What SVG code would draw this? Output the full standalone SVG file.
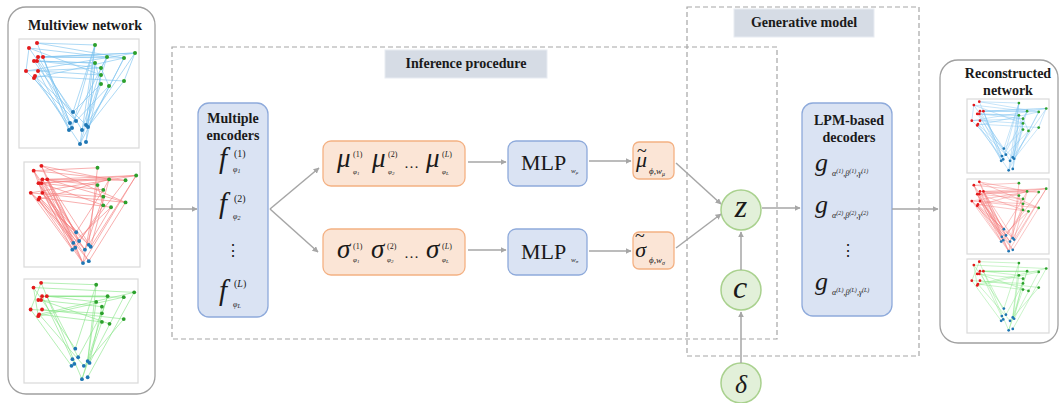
<svg xmlns="http://www.w3.org/2000/svg" xmlns:xlink="http://www.w3.org/1999/xlink" width="1060" height="403" viewBox="0 0 1060 403">
<style>
.tb{font-family:"Liberation Serif",serif;font-weight:bold;font-size:14px;fill:#1a1a1a;text-anchor:middle}
.m{font-family:"Liberation Serif",serif;font-style:italic;fill:#1a1a1a}
.r{font-family:"Liberation Serif",serif;fill:#1a1a1a}
.dash{fill:none;stroke:#a6a6a6;stroke-width:1.2;stroke-dasharray:5 3}
.blue{fill:#dae3f3;stroke:#8eaadb;stroke-width:1.3}
.orng{fill:#fbe5d6;stroke:#f4b183;stroke-width:1.3}
.grn{fill:#e2f0d9;stroke:#a9d18e;stroke-width:1.5}
.lab{fill:#d6dce5;stroke:#e8ecf2;stroke-width:1}
.panel{fill:#fff;stroke:#a0a0a0;stroke-width:1.3}
.frame{fill:#fff;stroke:#d9d9d9;stroke-width:1.2}
.arr{fill:none;stroke:#a6a6a6;stroke-width:1.5;marker-end:url(#ah)}
.e{fill:none;stroke-width:0.8;stroke-opacity:0.8}
</style>
<defs>
<marker id="ah" viewBox="0 0 10 10" refX="9" refY="5" markerWidth="6" markerHeight="6" markerUnits="userSpaceOnUse" orient="auto">
<path d="M0,0 L10,5 L0,10 z" fill="#a6a6a6"/>
</marker>
<g id="pnodes">
<g fill="#e41a1c"><circle cx="10" cy="9" r="2"/><circle cx="18" cy="4" r="2"/><circle cx="24" cy="18" r="2"/><circle cx="15" cy="22" r="2"/><circle cx="18" cy="22" r="2"/><circle cx="19" cy="18" r="2"/><circle cx="7" cy="32" r="2"/><circle cx="19" cy="32" r="2"/><circle cx="15" cy="39" r="2"/><circle cx="16" cy="37" r="2"/></g>
<g fill="#2ca02c"><circle cx="76" cy="6" r="2"/><circle cx="88" cy="18" r="2"/><circle cx="116" cy="14" r="2"/><circle cx="105" cy="19" r="2"/><circle cx="82" cy="29" r="2"/><circle cx="76" cy="24" r="2"/><circle cx="82" cy="36" r="2"/><circle cx="82" cy="45" r="2"/><circle cx="90" cy="47" r="2"/><circle cx="105" cy="42" r="2"/></g>
<g fill="#1f77b4"><circle cx="54" cy="73" r="2"/><circle cx="57" cy="82" r="2"/><circle cx="51" cy="84" r="2"/><circle cx="53" cy="89" r="2"/><circle cx="50" cy="91" r="2"/><circle cx="67" cy="86" r="2"/><circle cx="69" cy="88" r="2"/><circle cx="63" cy="91" r="2"/><circle cx="61" cy="105" r="2"/><circle cx="67" cy="103" r="2"/></g>
</g>
<path id="eB" class="e" stroke="#7ec3f0" d="M18 4L76 6M10 9L88 18M24 18L116 14M19 18L105 19M15 22L76 24M18 22L82 29M19 32L82 36M7 32L82 29M16 37L105 42M24 18L88 18M19 18L116 14M18 4L105 19M18 22L76 24M10 9L54 73M24 18L51 84M7 32L57 82M19 32L50 91M15 39L53 89M16 37L54 73M15 22L57 82M19 18L63 91M18 4L51 84M76 6L54 73M76 6L67 86M76 24L69 88M82 29L63 91M88 18L61 105M82 36L67 103M82 45L67 86M105 42L69 88M90 47L57 82M116 14L67 86M105 19L69 88M76 24L67 103M76 6L61 105M88 18L82 29M82 29L90 47M116 14L105 42M76 24L82 45M54 73L67 86M10 9L7 32M7 32L116 14M15 39L105 19M10 9L82 36M18 22L53 89M24 18L50 91M16 37L61 105M82 45L54 73M88 18L50 91M105 19L61 105M76 6L53 89"/>
<path id="eR" class="e" stroke="#f47c7c" d="M10 9L76 6M18 4L88 18M24 18L116 14M19 18L105 19M15 22L88 18M18 22L82 29M7 32L105 42M19 32L82 36M16 37L90 47M24 18L105 42M15 22L116 14M18 22L82 45M19 18L76 24M10 9L54 73M18 4L51 84M24 18L57 82M15 22L50 91M18 22L53 89M19 18L61 105M7 32L54 73M19 32L63 91M15 39L51 84M16 37L67 103M10 9L53 89M24 18L61 105M18 4L57 82M7 32L50 91M19 32L67 86M15 39L61 105M16 37L69 88M19 18L54 73M15 22L63 91M76 6L67 86M88 18L69 88M82 29L54 73M82 36L63 91M105 42L67 103M116 14L69 88M105 19L57 82M76 24L61 105M82 45L53 89M90 47L67 86M88 18L82 29M76 24L82 45M10 9L19 32M7 32L116 14M15 39L88 18M18 4L105 42M10 9L105 19M24 18L69 88M19 32L61 105M15 22L67 103M7 32L63 91M90 47L51 84M116 14L61 105"/>
<path id="eG" class="e" stroke="#85e585" d="M18 4L76 6M10 9L116 14M24 18L88 18M19 18L105 19M15 22L82 29M7 32L82 36M19 32L105 42M16 37L82 45M18 22L90 47M10 9L54 73M24 18L57 82M18 4L61 105M19 18L53 89M7 32L50 91M16 37L63 91M76 6L67 86M76 6L54 73M88 18L61 105M82 29L69 88M116 14L67 103M105 42L63 91M82 36L57 82M76 24L67 86M10 9L15 39M7 32L18 4M88 18L82 36M24 18L76 24M15 39L105 19M19 18L88 18M105 19L69 88M82 45L61 105M16 37L116 14"/>
</defs>
<rect width="1060" height="403" fill="#fff"/>

<!-- dashed regions -->
<g id="inference-region">
<rect class="dash" x="172" y="47" width="605" height="292"/>
<rect class="lab" x="385" y="50" width="162" height="28"/>
<text class="tb" x="466" y="68">Inference procedure</text>
</g>
<g id="generative-region">
<rect class="dash" x="687" y="7" width="232" height="349"/>
<rect class="lab" x="734" y="9" width="140" height="28"/>
<text class="tb" x="804" y="27">Generative model</text>
</g>

<!-- left panel -->
<g id="multiview-network">
<rect class="panel" x="8" y="7" width="147" height="387" rx="18"/>
<text class="tb" x="85" y="30">Multiview network</text>
<rect class="frame" x="19" y="39" width="120" height="109"/>
<g transform="translate(19,39)"><use xlink:href="#eB"/><use xlink:href="#pnodes"/></g>
<rect class="frame" x="24" y="162" width="116" height="105"/>
<g transform="translate(24,162) scale(0.967,0.963)"><use xlink:href="#eR"/><use xlink:href="#pnodes"/></g>
<rect class="frame" x="24" y="279" width="114" height="104"/>
<g transform="translate(24,279) scale(0.95,0.954)"><use xlink:href="#eG"/><use xlink:href="#pnodes"/></g>
</g>

<!-- right panel -->
<g id="reconstructed-network">
<rect class="panel" x="940" y="60" width="118" height="283" rx="18"/>
<text class="tb" x="1008" y="78">Reconstructed</text>
<text class="tb" x="1008" y="95">network</text>
<rect class="frame" x="967" y="99" width="82" height="74"/>
<g transform="translate(967,99) scale(0.683,0.679)"><use xlink:href="#eB"/><use xlink:href="#pnodes"/></g>
<rect class="frame" x="967" y="179" width="82" height="75"/>
<g transform="translate(967,179) scale(0.683,0.688)"><use xlink:href="#eR"/><use xlink:href="#pnodes"/></g>
<rect class="frame" x="967" y="259" width="82" height="74"/>
<g transform="translate(967,259) scale(0.683,0.679)"><use xlink:href="#eG"/><use xlink:href="#pnodes"/></g>
</g>

<!-- encoders -->
<g id="encoders">
<rect class="blue" x="198" y="103" width="70" height="214" rx="11"/>
<text class="tb" x="233" y="123">Multiple</text>
<text class="tb" x="233" y="140">encoders</text>
<text class="m" x="219" y="168" font-size="29">f</text>
<text class="r" x="234" y="157" font-size="10">(1)</text>
<text class="m" x="233" y="172" font-size="8">φ<tspan font-size="6" dy="1">1</tspan></text>
<text class="m" x="219" y="213" font-size="29">f</text>
<text class="r" x="234" y="202" font-size="10">(2)</text>
<text class="m" x="233" y="219" font-size="8">φ<tspan font-size="6" dy="1">2</tspan></text>
<text class="r" x="233" y="256" font-size="16" text-anchor="middle">⋮</text>
<text class="m" x="219" y="300" font-size="29">f</text>
<text class="r" x="234" y="287" font-size="10">(<tspan font-style="italic">L</tspan>)</text>
<text class="m" x="233" y="307" font-size="8">φ<tspan font-size="6" dy="1">L</tspan></text>
</g>

<!-- mu box -->
<g id="mu-box">
<rect class="orng" x="323" y="141" width="142" height="45" rx="8"/>
<text class="m" x="337" y="167" font-size="27">μ</text>
<text class="r" x="353" y="157" font-size="8">(1)</text>
<text class="m" x="353" y="174" font-size="7">φ<tspan font-size="5" dy="1">1</tspan></text>
<text class="m" x="372" y="167" font-size="27">μ</text>
<text class="r" x="388" y="157" font-size="8">(2)</text>
<text class="m" x="388" y="174" font-size="7">φ<tspan font-size="5" dy="1">2</tspan></text>
<text class="r" x="404" y="168" font-size="15">…</text>
<text class="m" x="426" y="167" font-size="27">μ</text>
<text class="r" x="442" y="157" font-size="8">(<tspan font-style="italic">L</tspan>)</text>
<text class="m" x="442" y="174" font-size="7">φ<tspan font-size="5" dy="1">L</tspan></text>
</g>

<!-- sigma box -->
<g id="sigma-box">
<rect class="orng" x="323" y="229" width="142" height="46" rx="8"/>
<text class="m" x="337" y="258" font-size="27">σ</text>
<text class="r" x="353" y="249" font-size="8">(1)</text>
<text class="m" x="353" y="262" font-size="7">φ<tspan font-size="5" dy="1">1</tspan></text>
<text class="m" x="371" y="258" font-size="27">σ</text>
<text class="r" x="387" y="249" font-size="8">(2)</text>
<text class="m" x="387" y="262" font-size="7">φ<tspan font-size="5" dy="1">2</tspan></text>
<text class="r" x="404" y="258" font-size="15">…</text>
<text class="m" x="426" y="258" font-size="27">σ</text>
<text class="r" x="442" y="249" font-size="8">(<tspan font-style="italic">L</tspan>)</text>
<text class="m" x="442" y="262" font-size="7">φ<tspan font-size="5" dy="1">L</tspan></text>
</g>

<!-- MLPs -->
<g id="mlp-mu">
<rect class="blue" x="508" y="141" width="79" height="45" rx="8"/>
<text class="r" x="521" y="170" font-size="22">MLP</text>
<text class="m" x="571" y="173" font-size="7">w<tspan font-size="5" dy="1">μ</tspan></text>
</g>
<g id="mlp-sigma">
<rect class="blue" x="508" y="229" width="79" height="46" rx="8"/>
<text class="r" x="521" y="259" font-size="22">MLP</text>
<text class="m" x="571" y="262" font-size="7">w<tspan font-size="5" dy="1">σ</tspan></text>
</g>

<!-- tilde boxes -->
<g id="mu-tilde">
<rect class="orng" x="633" y="142" width="41" height="37" rx="6"/>
<text class="m" x="636" y="167" font-size="22">μ<tspan class="r" font-style="normal" font-size="18" dx="-10" dy="-10">~</tspan><tspan x="649" y="174" font-size="9">ϕ,w</tspan><tspan font-size="6" dy="1.5">μ</tspan></text>
</g>
<g id="sigma-tilde">
<rect class="orng" x="633" y="232" width="41" height="37" rx="6"/>
<text class="m" x="635" y="257" font-size="22">σ<tspan class="r" font-style="normal" font-size="18" dx="-11" dy="-15">~</tspan><tspan x="649" y="263" font-size="9">ϕ,w</tspan><tspan font-size="6" dy="1.5">σ</tspan></text>
</g>

<!-- latent nodes -->
<g id="z-node">
<circle class="grn" cx="741" cy="210" r="20"/>
<text class="m" x="741" y="217" font-size="32" text-anchor="middle">z</text>
</g>
<g id="c-node">
<circle class="grn" cx="741" cy="290" r="20"/>
<text class="m" x="740" y="298" font-size="32" text-anchor="middle">c</text>
</g>
<g id="delta-node">
<circle class="grn" cx="741" cy="383" r="20"/>
<text class="m" x="741" y="393" font-size="26" text-anchor="middle">δ</text>
</g>

<!-- decoders -->
<g id="decoders">
<rect class="blue" x="802" y="103" width="90" height="213" rx="11"/>
<text class="tb" x="849" y="125">LPM-based</text>
<text class="tb" x="849" y="142">decoders</text>
<text class="m" x="815" y="171" font-size="26">g</text>
<text class="m" x="832" y="176" font-size="8">α<tspan font-size="6" dy="-3">(1)</tspan><tspan dy="3">,β</tspan><tspan font-size="6" dy="-3">(1)</tspan><tspan dy="3">,γ</tspan><tspan font-size="6" dy="-3">(1)</tspan></text>
<text class="m" x="815" y="213" font-size="26">g</text>
<text class="m" x="832" y="218" font-size="8">α<tspan font-size="6" dy="-3">(2)</tspan><tspan dy="3">,β</tspan><tspan font-size="6" dy="-3">(2)</tspan><tspan dy="3">,γ</tspan><tspan font-size="6" dy="-3">(2)</tspan></text>
<text class="r" x="848" y="256" font-size="16" text-anchor="middle">⋮</text>
<text class="m" x="815" y="290" font-size="26">g</text>
<text class="m" x="832" y="295" font-size="8">α<tspan font-size="6" dy="-3">(L)</tspan><tspan dy="3">,β</tspan><tspan font-size="6" dy="-3">(L)</tspan><tspan dy="3">,γ</tspan><tspan font-size="6" dy="-3">(L)</tspan></text>
</g>

<!-- connectors -->
<g id="connectors">
<path class="arr" d="M155 209H197"/>
<path class="arr" d="M270 209L319 168"/>
<path class="arr" d="M270 209L318 252"/>
<path class="arr" d="M468 162H506"/>
<path class="arr" d="M468 250H506"/>
<path class="arr" d="M589 161H631"/>
<path class="arr" d="M589 251H631"/>
<path class="arr" d="M676 163L721 204"/>
<path class="arr" d="M676 248L721 214"/>
<path class="arr" d="M741 270V232"/>
<path class="arr" d="M741 363V312"/>
<path class="arr" d="M762 208H800"/>
<path class="arr" d="M892 209H938"/>
</g>
</svg>
